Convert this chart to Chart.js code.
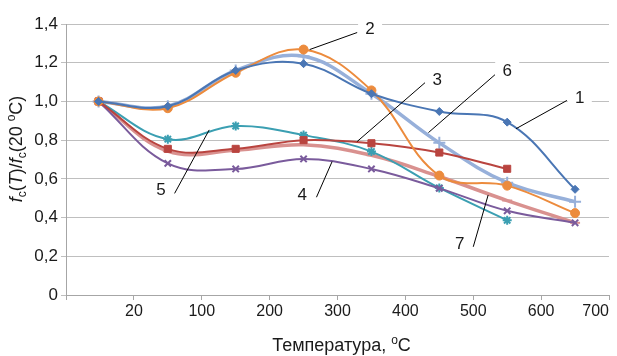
<!DOCTYPE html>
<html>
<head>
<meta charset="utf-8">
<script src="https://cdn.jsdelivr.net/npm/chart.js@4"></script>
<style>
  html, body { margin: 0; padding: 0; background: #fff; }
  #wrap { width: 617px; height: 356px; }
</style>
</head>
<body>
<div id="wrap"><canvas id="chart" width="617" height="356"></canvas></div>
<script>
// x positions of the measuring points on the axis, and the axis labels
const xValues = [48, 150, 250, 350, 450, 550, 650, 750];
const xTickLabels = ['', '20', '100', '200', '300', '400', '500', '600', '700'];

// f_c(T)/f_c(20 C) for the 7 curves
const curve1 = [1.0, 0.975, 1.16, 1.195, 1.04, 0.948, 0.893, 0.546];
const curve2 = [1.0, 0.965, 1.148, 1.268, 1.057, 0.617, 0.565, 0.423];
const curve3 = [1.0, 0.755, 0.755, 0.80, 0.784, 0.736, 0.652, null];
const curve4 = [1.0, 0.68, 0.651, 0.703, 0.651, 0.551, 0.435, 0.373];
const curve5 = [1.0, 0.805, 0.873, 0.826, 0.741, 0.553, 0.386, null];
const curve6 = [1.0, 0.975, 1.16, 1.233, 1.04, 0.786, 0.58, 0.482];
const curve7 = [1.0, 0.743, 0.748, 0.776, 0.722, 0.612, 0.488, 0.373];

const curveNames = ['1', '2', '3', '4', '5', '6', '7'];

const FONT = "'Liberation Sans', Arial, sans-serif";

function pts(vals) {
    return vals.map((v, i) => ({ x: xValues[i], y: v }));
}

// callout labels: text at (tx,ty), leader line from (x1,y1) to (x2,y2), all in data units
const callouts = [
    { t: '1', tx: 757, ty: 1.014, x1: 663, y1: 0.859, x2: 738, y2: 1.005 },
    { t: '2', tx: 448, ty: 1.375, x1: 359, y1: 1.268, x2: 429, y2: 1.356 },
    { t: '3', tx: 547, ty: 1.109, x1: 429, y1: 0.793, x2: 529, y2: 1.097 },
    { t: '4', tx: 348, ty: 0.517, x1: 369, y1: 0.505, x2: 392, y2: 0.689 },
    { t: '5', tx: 140, ty: 0.539, x1: 160, y1: 0.525, x2: 211, y2: 0.853 },
    { t: '6', tx: 650, ty: 1.155, x1: 534, y1: 0.839, x2: 632, y2: 1.138 },
    { t: '7', tx: 580, ty: 0.263, x1: 600, y1: 0.249, x2: 622, y2: 0.517 }
];

// draws runs of [text, style] where style: n normal, i italic, sub, sup
function fontFor(style, size) {
    const s = (style === 'sub' || style === 'sup') ? Math.round(size * 0.65) : size;
    return (style === 'i' ? 'italic ' : '') + s + 'px ' + FONT;
}
function richWidth(ctx, parts, size) {
    let w = 0;
    parts.forEach(p => {
        ctx.font = fontFor(p[1], size);
        w += ctx.measureText(p[0]).width;
    });
    return w;
}
function drawRich(ctx, parts, cx, cy, size) {
    const w = richWidth(ctx, parts, size);
    let x = cx - w / 2;
    ctx.textBaseline = 'middle';
    ctx.textAlign = 'left';
    parts.forEach(p => {
        ctx.font = fontFor(p[1], size);
        let dy = 0;
        if (p[1] === 'sub') dy = size * 0.3;
        if (p[1] === 'sup') dy = -size * 0.3;
        ctx.fillText(p[0], x, cy + dy);
        x += ctx.measureText(p[0]).width;
    });
}

const extras = {
    id: 'extras',
    afterDatasetsDraw(chart) {
        const ctx = chart.ctx;
        const xs = chart.scales.x, ys = chart.scales.y;
        ctx.save();
        // leader lines
        ctx.strokeStyle = '#000';
        ctx.lineWidth = 1;
        callouts.forEach(c => {
            ctx.beginPath();
            ctx.moveTo(xs.getPixelForValue(c.x1), ys.getPixelForValue(c.y1));
            ctx.lineTo(xs.getPixelForValue(c.x2), ys.getPixelForValue(c.y2));
            ctx.stroke();
        });
        // labels with white box
        ctx.font = '17px ' + FONT;
        ctx.textAlign = 'center';
        ctx.textBaseline = 'middle';
        callouts.forEach(c => {
            const px = xs.getPixelForValue(c.tx), py = ys.getPixelForValue(c.ty);
            ctx.fillStyle = '#fff';
            ctx.fillRect(px - 12, py - 10, 24, 20);
            ctx.fillStyle = '#1a1a1a';
            ctx.fillText(c.t, px, py);
        });
        ctx.restore();
    },
    afterDraw(chart) {
        const ctx = chart.ctx;
        const area = chart.chartArea;
        ctx.save();
        ctx.fillStyle = '#1a1a1a';
        // x title
        drawRich(ctx, [['Температура, ', 'n'], ['o', 'sup'], ['C', 'n']], (area.left + area.right) / 2 + 4, 346, 18);
        // y title
        ctx.translate(17, 149);
        ctx.rotate(-Math.PI / 2);
        drawRich(ctx, [
            ['f', 'i'], ['c', 'sub'], ['(', 'n'], ['T', 'i'], [')/', 'n'],
            ['f', 'i'], ['c', 'sub'], ['(20 ', 'n'], ['o', 'sup'], ['C)', 'n']
        ], 0, 0, 18);
        ctx.restore();
    }
};

const styles = [
    { color: '#4a76b4', point: 'rectRot', r: 4, w: 2 },
    { color: '#ec8b3d', point: 'circle', r: 4.5, w: 2 },
    { color: '#b9443f', point: 'rect', r: 5, w: 2 },
    { color: '#7a5b9c', point: 'crossRot', r: 4.5, w: 2 },
    { color: '#3b9fb2', point: 'star', r: 4.5, w: 2 },
    { color: '#97b0da', point: 'cross', r: 6, w: 3.5 },
    { color: '#d9918f', point: 'line', r: 5, w: 3.5 }
];
const curves = [curve1, curve2, curve3, curve4, curve5, curve6, curve7];
const thinMarks = ['crossRot', 'star', 'cross', 'line'];

const datasets = curves.map((c, i) => ({
    label: curveNames[i],
    data: pts(c),
    borderColor: styles[i].color,
    backgroundColor: styles[i].color,
    borderWidth: styles[i].w,
    pointStyle: styles[i].point,
    pointRadius: styles[i].r,
    pointBorderWidth: thinMarks.includes(styles[i].point) ? 2 : 1,
    tension: 0.38,
    spanGaps: false
}));

new Chart(document.getElementById('chart'), {
    type: 'line',
    data: { datasets: datasets },
    options: {
        responsive: false,
        animation: false,
        devicePixelRatio: 1,
        layout: { padding: { top: 24, right: 7, left: 0, bottom: 0 } },
        plugins: {
            legend: { display: false },
            tooltip: { enabled: false }
        },
        scales: {
            x: {
                type: 'linear',
                min: 0,
                max: 800,
                afterFit: s => { s.height = 61; },
                ticks: {
                    stepSize: 100,
                    align: 'inner',
                    padding: 2,
                    color: '#1a1a1a',
                    font: { family: FONT, size: 16 },
                    callback: v => xTickLabels[Math.round(v / 100)]
                },
                grid: { drawOnChartArea: false, tickLength: 5, color: '#a6a6a6' },
                border: { color: '#a6a6a6' }
            },
            y: {
                min: 0,
                max: 1.4,
                afterFit: s => { s.width = 66; },
                ticks: {
                    stepSize: 0.2,
                    padding: 3,
                    color: '#1a1a1a',
                    font: { family: FONT, size: 17 },
                    callback: v => (Math.abs(v) < 1e-9 ? '0' : v.toFixed(1).replace('.', ','))
                },
                grid: { color: '#bfbfbf', tickLength: 5 },
                border: { color: '#a6a6a6' }
            }
        }
    },
    plugins: [extras]
});
</script>
</body>
</html>
